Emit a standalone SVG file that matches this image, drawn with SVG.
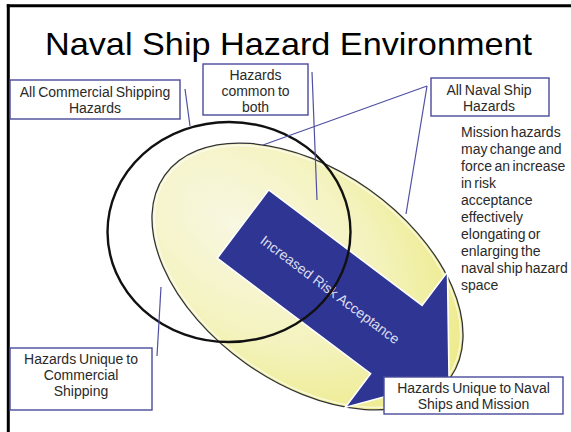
<svg xmlns="http://www.w3.org/2000/svg" width="571" height="432" viewBox="0 0 571 432">
<defs>
<radialGradient id="yel" cx="0.25" cy="0.5" r="0.8">
<stop offset="0" stop-color="#f8f7e1"/>
<stop offset="0.55" stop-color="#f4f3bf"/>
<stop offset="1" stop-color="#ecea84"/>
</radialGradient>
</defs>
<style>
.box{fill:#fff;stroke:#4a4a9c;stroke-width:1.4}
.lbl{font-family:"Liberation Sans",Arial,sans-serif;font-size:14px;fill:#2a2a2a;text-anchor:middle;word-spacing:-1px}
.lead{stroke:#4f4fa3;stroke-width:1.2;fill:none}
.frame{stroke:#000;stroke-width:3;fill:none}
</style>
<rect width="571" height="432" fill="#fff"/>
<g id="frame">
<line class="frame" x1="6.8" y1="5.8" x2="571" y2="5.8"/>
<line class="frame" x1="8.3" y1="4.3" x2="8.3" y2="432"/>
</g>
<g id="title">
<text x="45" y="55" font-family="'Liberation Sans',Arial,sans-serif" font-size="32" fill="#000" textLength="487" lengthAdjust="spacingAndGlyphs">Naval Ship Hazard Environment</text>
</g>
<g id="naval-hazard-space">
<ellipse cx="0" cy="0" rx="175" ry="106.6" transform="translate(307.5 276.5) rotate(35.3)" fill="url(#yel)" stroke="#333" stroke-width="1.3"/>
<ellipse cx="0" cy="0" rx="172.5" ry="104.2" transform="translate(307.5 276.5) rotate(35.3)" fill="none" stroke="#fff" stroke-opacity="0.6" stroke-width="1.5"/>
</g>
<g id="risk-arrow">
<polygon points="0,-42.8 192,-42.8 192,-85 258,0 192,85 192,42.8 0,42.8" transform="translate(243 224) rotate(37)" fill="#2e3592" stroke="#fff" stroke-width="1.6"/>
<text x="109" y="5" transform="translate(243 224) rotate(37)" font-family="'Liberation Sans',Arial,sans-serif" font-size="14" fill="#dcdcf0" text-anchor="middle" textLength="170" lengthAdjust="spacingAndGlyphs">Increased Risk Acceptance</text>
</g>
<g id="commercial-hazard-space">
<ellipse cx="229" cy="232" rx="121.5" ry="110" fill="none" stroke="#111" stroke-width="2.4"/>
</g>
<g id="connectors">
<line class="lead" x1="185" y1="89" x2="190" y2="126"/>
<line class="lead" x1="312" y1="72" x2="317" y2="200"/>
<line class="lead" x1="427" y1="86" x2="263" y2="145"/>
<line class="lead" x1="427" y1="86" x2="406" y2="214"/>
<line class="lead" x1="161" y1="287" x2="157" y2="356"/>
</g>
<g id="all-commercial">
<rect class="box" x="10" y="80" width="170" height="39"/>
<text class="lbl" x="95" y="97">All Commercial Shipping</text>
<text class="lbl" x="95" y="113">Hazards</text>
</g>
<g id="common">
<rect class="box" x="203" y="64" width="105" height="51"/>
<text class="lbl" x="255.5" y="80">Hazards</text>
<text class="lbl" x="255.5" y="96">common to</text>
<text class="lbl" x="255.5" y="112">both</text>
</g>
<g id="all-naval">
<rect class="box" x="431" y="78" width="118" height="38"/>
<text class="lbl" x="489" y="95">All Naval Ship</text>
<text class="lbl" x="489" y="111">Hazards</text>
</g>
<g id="unique-commercial">
<rect class="box" x="10" y="348" width="142" height="62"/>
<text class="lbl" x="81" y="364">Hazards Unique to</text>
<text class="lbl" x="81" y="380">Commercial</text>
<text class="lbl" x="81" y="396">Shipping</text>
</g>
<g id="unique-naval">
<rect class="box" x="384" y="377" width="179" height="37"/>
<text class="lbl" x="473.5" y="393">Hazards Unique to Naval</text>
<text class="lbl" x="473.5" y="409">Ships and Mission</text>
</g>
<g id="mission-note" font-family="'Liberation Sans',Arial,sans-serif" font-size="14" fill="#2a2a2a" word-spacing="-1.5">
<text x="461" y="137">Mission hazards</text>
<text x="461" y="154">may change and</text>
<text x="461" y="171">force an increase</text>
<text x="461" y="188">in risk</text>
<text x="461" y="205">acceptance</text>
<text x="461" y="222">effectively</text>
<text x="461" y="239">elongating or</text>
<text x="461" y="256">enlarging the</text>
<text x="461" y="273">naval ship hazard</text>
<text x="461" y="290">space</text>
</g>
</svg>
